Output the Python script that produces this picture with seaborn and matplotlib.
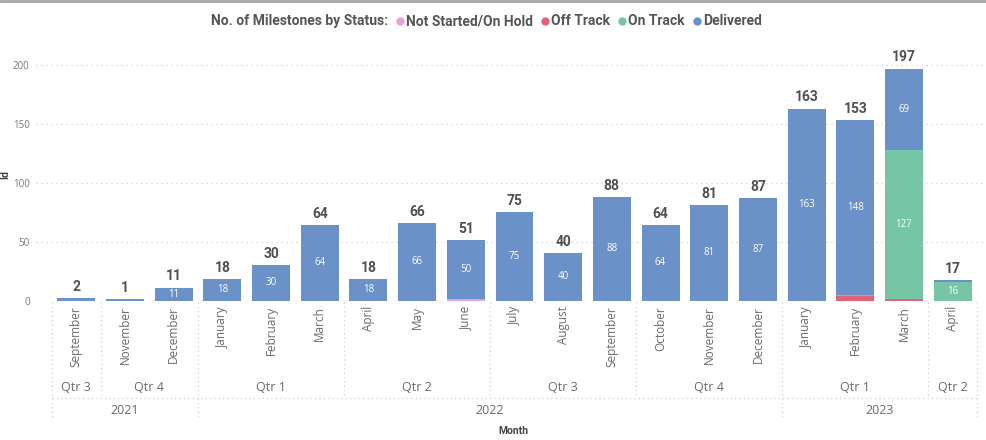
import matplotlib
matplotlib.use("Agg")
import matplotlib.pyplot as plt
from matplotlib.lines import Line2D
from matplotlib.transforms import blended_transform_factory
import numpy as np
import pandas as pd
import seaborn as sns

# ---- data ----
months = ["September", "November", "December",
          "January", "February", "March", "April", "May", "June",
          "July", "August", "September", "October", "November", "December",
          "January", "February", "March", "April"]
quarter_labels = ["Qtr 3", "Qtr 4", "Qtr 1", "Qtr 2", "Qtr 3", "Qtr 4", "Qtr 1", "Qtr 2"]
quarter_sizes = [1, 2, 3, 3, 3, 3, 3, 1]
year_labels = ["2021", "2022", "2023"]
year_sizes = [3, 12, 4]

statuses = ["Not Started/On Hold", "Off Track", "On Track", "Delivered"]
not_started = [0, 0, 0, 0, 0, 0, 0, 0, 1, 0, 0, 0, 0, 0, 0, 0, 0, 0, 0]
off_track = [0, 0, 0, 0, 0, 0, 0, 0, 0, 0, 0, 0, 0, 0, 0, 0, 4, 1, 0]
on_track = [0, 0, 0, 0, 0, 0, 0, 0, 0, 0, 0, 0, 0, 0, 0, 0, 1, 127, 16]
delivered = [2, 1, 11, 18, 30, 64, 18, 66, 50, 75, 40, 88, 64, 81, 87, 163, 148, 69, 1]

colors = {"Not Started/On Hold": "#E6A3D6", "Off Track": "#DF6477",
          "On Track": "#77C5A7", "Delivered": "#6A91C8"}

W, H = 986, 440
sns.set_theme(style="white")
plt.rcParams["font.family"] = ["Open Sans", "DejaVu Sans"]

fig = plt.figure(figsize=(W / 100, H / 100), dpi=100)
ax_left, ax_right = 36, 986
y0_px, y200_px = 300.5, 65.0
ppu = (y0_px - y200_px) / 200.0
ymax = 210
ax_top_px = y0_px - ymax * ppu
ax = fig.add_axes([ax_left / W, (H - y0_px) / H, (ax_right - ax_left) / W, (y0_px - ax_top_px) / H])

n = len(months)
slot = (977 - 52) / n
df = pd.DataFrame({"idx": np.arange(n), "Not Started/On Hold": not_started,
                   "Off Track": off_track, "On Track": on_track, "Delivered": delivered})
cum = df[statuses].cumsum(axis=1)
df["total"] = cum["Delivered"]

# stacked bars: draw cumulative layers from the top down
for s in reversed(statuses):
    sns.barplot(x=df["idx"], y=cum[s], color=colors[s], width=0.78, ax=ax,
                errorbar=None, saturation=1, linewidth=0, zorder=2)

ax.set_xlim(-0.5 - (52 - ax_left) / slot, n - 0.5 + (ax_right - 977) / slot)
ax.set_ylim(0, ymax)
ax.set_yticks([0, 50, 100, 150, 200])
ax.yaxis.grid(True, color="#cfcfcf", linestyle=(0, (1, 3)), linewidth=0.9, zorder=0)
ax.set_axisbelow(True)
ax.tick_params(axis="y", labelsize=7, colors="#777777", length=0, pad=4.5)
ax.set_xticks([])
ax.set_xlabel("")
ax.set_ylabel("")
for sp in ax.spines.values():
    sp.set_visible(False)

# total labels above bars
for i, t in enumerate(df["total"]):
    ax.annotate(str(t), (i, t), xytext=(0, 3), textcoords="offset points",
                ha="center", va="bottom", fontsize=10, fontweight="bold",
                color="#505050", family=["Roboto", "DejaVu Sans"])

# segment labels inside bars
bottoms = cum.shift(axis=1, fill_value=0)
for s in statuses:
    for i in range(n):
        v = df[s].iloc[i]
        if v >= 10:
            ymid = bottoms[s].iloc[i] + v / 2
            ax.text(i, ymid, str(v), ha="center", va="center", fontsize=7,
                    color="white", zorder=3)

# hierarchical x axis
trans = blended_transform_factory(ax.transData, fig.transFigure)
def fy(px):
    return 1 - px / H

for i, m in enumerate(months):
    ax.text(i, fy(306), m, transform=trans, rotation=90, ha="center", va="top",
            fontsize=8.5, color="#6a6a6a")

line_kw = dict(color="#cfcfcf", linestyle=(0, (1, 2.5)), linewidth=0.9,
               transform=trans, clip_on=False)
pos = -0.5
for lab, sz in zip(quarter_labels, quarter_sizes):
    ax.text(pos + sz / 2, fy(387), lab, transform=trans, ha="center", va="center",
            fontsize=9, color="#6a6a6a")
    ax.add_line(Line2D([pos, pos], [fy(302), fy(398)], **line_kw))
    pos += sz
ax.add_line(Line2D([pos, pos], [fy(302), fy(398)], **line_kw))
ax.add_line(Line2D([-0.5, n - 0.5], [fy(398), fy(398)], **line_kw))

pos = -0.5
for lab, sz in zip(year_labels, year_sizes):
    ax.text(pos + sz / 2, fy(410), lab, transform=trans, ha="center", va="center",
            fontsize=9, color="#6a6a6a")
    ax.add_line(Line2D([pos, pos], [fy(398), fy(420)], **line_kw))
    pos += sz
ax.add_line(Line2D([pos, pos], [fy(398), fy(420)], **line_kw))

fig.text(513 / W, fy(431), "Month", ha="center", va="center", fontsize=7.5,
         fontweight="bold", color="#444444", family=["Roboto", "DejaVu Sans"])
fig.text(5 / W, fy(175), "Id", ha="center", va="center", rotation=90, fontsize=7.5,
         fontweight="bold", color="#444444", family=["Roboto", "DejaVu Sans"])

# top border
fig.add_artist(Line2D([0, 1], [fy(1.5), fy(1.5)], transform=fig.transFigure,
                      color="#a5a5a5", linewidth=2))

# title and legend row
renderer = fig.canvas.get_renderer()
x = 211.0
yc = fy(21)
head_kw = dict(fontsize=10, fontweight="bold", color="#555555",
               family=["Roboto", "DejaVu Sans"], va="center", ha="left")
t = fig.text(x / W, yc, "No. of Milestones by Status:", **head_kw)
x = t.get_window_extent(renderer).x1
for s in statuses:
    x += 12
    fig.add_artist(Line2D([x / W], [yc], marker="o", markersize=5, color=colors[s],
                          linestyle="", transform=fig.transFigure))
    x += 6
    t = fig.text(x / W, yc, s, **head_kw)
    x = t.get_window_extent(renderer).x1

fig.savefig("out.png", dpi=100)
